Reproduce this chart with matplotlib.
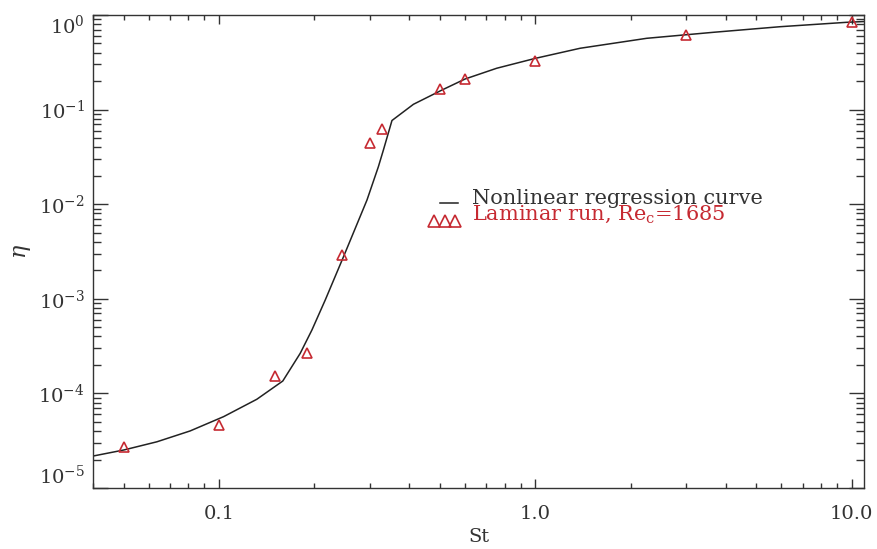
import matplotlib
matplotlib.use("Agg")
import matplotlib.pyplot as plt
from matplotlib.ticker import FixedLocator, LogLocator, NullFormatter, FixedFormatter

# Regression curve eta(St)
curve_st = [0.0401, 0.0500, 0.0637, 0.0811, 0.1035, 0.1318, 0.1592, 0.1807,
            0.1968, 0.2168, 0.2477, 0.2938, 0.3192, 0.3311, 0.3524,
            0.412, 0.507, 0.600, 0.755, 1.0, 1.386, 2.249, 3.65, 5.94, 9.64, 10.94]
curve_eta = [2.18e-5, 2.52e-5, 3.08e-5, 4.01e-5, 5.68e-5, 8.67e-5, 1.352e-4, 2.65e-4,
             4.68e-4, 9.70e-4, 2.79e-3, 1.107e-2, 2.49e-2, 3.74e-2, 7.67e-2,
             0.1138, 0.161, 0.2106, 0.2735, 0.348, 0.445, 0.567, 0.656, 0.752, 0.837, 0.853]

# Laminar run measurements
run_st = [0.05, 0.1, 0.15, 0.19, 0.245, 0.30, 0.327, 0.50, 0.60, 1.0, 3.0, 10.0]
run_eta = [2.69e-5, 4.63e-5, 1.53e-4, 2.65e-4, 2.9e-3, 0.044, 0.062, 0.165, 0.21, 0.33, 0.615, 0.84]

x_ticks = [0.1, 1.0, 10.0]
x_ticklabels = ["0.1", "1.0", "10.0"]
y_ticks = [1e-5, 1e-4, 1e-3, 1e-2, 1e-1, 1e0]
y_ticklabels = [r"$10^{-5}$", r"$10^{-4}$", r"$10^{-3}$", r"$10^{-2}$", r"$10^{-1}$", r"$10^{0}$"]

FG = "#333333"
RED = "#c62a32"

plt.rcParams["font.family"] = ["DejaVu Serif"]
plt.rcParams["mathtext.fontset"] = "dejavuserif"

fig = plt.figure(figsize=(8.77, 5.49), dpi=100)
ax = fig.add_axes([93 / 877, 1 - 488 / 549, (864 - 93) / 877, (488 - 15) / 549])

ax.plot(curve_st, curve_eta, color="#222222", lw=1.1, zorder=2)
ax.plot(run_st, run_eta, ls="none", marker="^", ms=6.5, mfc="none",
        mec=RED, mew=1.2, zorder=3)

ax.set_xscale("log")
ax.set_yscale("log")
ax.set_xlim(0.04, 10.94)
ax.set_ylim(1e-5, 1.0)

ax.xaxis.set_major_locator(FixedLocator(x_ticks))
ax.xaxis.set_major_formatter(FixedFormatter(x_ticklabels))
ax.xaxis.set_minor_locator(LogLocator(base=10, subs=range(2, 10)))
ax.xaxis.set_minor_formatter(NullFormatter())
ax.yaxis.set_major_locator(FixedLocator(y_ticks))
ax.yaxis.set_major_formatter(FixedFormatter(y_ticklabels))
ax.yaxis.set_minor_locator(LogLocator(base=10, subs=range(2, 10)))
ax.yaxis.set_minor_formatter(NullFormatter())

for s in ax.spines.values():
    s.set_color(FG)
    s.set_linewidth(1.0)

ax.tick_params(axis="x", which="major", direction="in", length=6.8, width=1.0,
               top=True, color=FG, labelcolor=FG, labelsize=14, pad=12)
ax.tick_params(axis="x", which="minor", direction="in", length=3.4, width=1.0,
               top=True, color=FG)
ax.tick_params(axis="y", which="major", direction="in", length=11, width=1.0,
               right=True, color=FG, labelcolor=FG, labelsize=14, pad=6)
ax.tick_params(axis="y", which="minor", direction="in", length=5.5, width=1.0,
               right=True, color=FG)

ylabels = ax.get_yticklabels()
ylabels[0].set_va("bottom")
ylabels[-1].set_va("top")

ax.set_xlabel("St", fontsize=14, color=FG, labelpad=4)
ax.set_ylabel(r"$\eta$", fontsize=16, color=FG, labelpad=4)

# Legend drawn as text lines with their symbols
ax.plot([0.450, 0.474], [0.6025, 0.6025], transform=ax.transAxes, color="#222222",
        lw=1.1, clip_on=False)
ax.text(0.491, 0.600, "Nonlinear regression curve", transform=ax.transAxes,
        fontsize=15, color=FG, va="baseline", ha="left")
ax.plot([0.442, 0.456, 0.470], [0.5655, 0.5655, 0.5655], transform=ax.transAxes,
        ls="none", marker="^", ms=9, mfc="none", mec=RED, mew=1.2, clip_on=False)
ax.text(0.491, 0.5666, r"Laminar run, Re$_{\rm c}$=1685", transform=ax.transAxes,
        fontsize=15, color=RED, va="baseline", ha="left")

fig.savefig("out.png", dpi=100)
